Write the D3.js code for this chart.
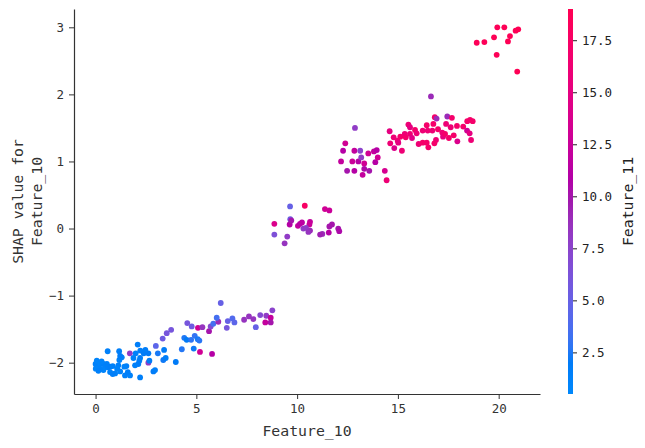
<!DOCTYPE html>
<html><head><meta charset="utf-8">
<script src="https://cdn.jsdelivr.net/npm/d3@7/dist/d3.min.js"></script>
<style>
body{margin:0;background:#fff;}
text{font-family:"DejaVu Sans Mono",monospace;}
</style>
</head><body>
<svg id="chart" width="645" height="448"></svg>
<script>
// ---- data ----
const feature10 = [
 0.00,0.07,0.14,0.22,0.39,0.47,0.39,0.63,0.22,0.01,0.14,0.72,0.06,0.56,0.72,0.60,1.17,1.30,1.18,1.22,
 1.53,1.43,1.13,1.07,0.97,0.85,1.46,1.71,2.21,1.22,1.60,1.70,2.09,1.99,2.22,2.39,2.62,2.99,3.09,3.40,
 2.17,2.12,2.21,1.88,2.62,2.87,2.95,3.36,3.48,3.98,4.28,4.40,4.52,4.74,4.92,5.07,5.15,4.87,3.33,3.53,
 3.75,1.96,2.67,4.55,4.77,5.08,5.30,5.18,5.78,5.63,5.71,5.84,6.09,6.01,6.21,6.51,6.56,6.79,6.89,7.37,
 7.61,7.83,7.95,8.17,8.47,8.42,8.69,8.69,8.77,2.47,0.30,0.85,
 9.65,10.38,11.38,11.60,9.66,8.87,9.63,9.71,10.04,10.14,10.24,10.64,10.61,10.31,10.44,10.64,10.56,11.60,11.73,12.04,
 12.09,11.57,11.25,11.14,8.87,9.51,9.38,
 12.87,12.39,12.28,12.84,13.13,13.53,13.81,13.95,12.18,12.74,13.04,13.18,13.33,13.88,14.00,12.48,12.84,13.33,13.58,13.25,
 14.35,14.44,14.59,14.62,14.82,14.79,14.99,15.02,15.20,15.12,15.34,15.39,15.52,15.60,15.60,15.70,15.85,15.93,16.03,16.23,
 16.23,16.43,16.48,16.43,16.51,16.76,16.71,16.83,16.92,16.89,16.81,16.99,17.20,17.24,17.34,17.39,17.45,17.53,17.62,17.68,
 17.77,17.93,17.95,18.24,18.43,18.56,18.44,18.58,18.71,18.63,16.64,
 18.91,19.29,19.77,19.93,20.28,20.56,20.46,20.84,20.97,19.90,20.92
];
const shapValues = [
 -2.02,-2.04,-2.00,-2.02,-2.02,-2.07,-2.11,-2.07,-2.09,-2.09,-2.12,-2.14,-1.97,-2.02,-2.06,-1.83,-1.83,-1.92,-1.96,-1.90,
 -2.05,-2.06,-2.04,-2.09,-2.16,-2.17,-2.19,-2.19,-2.22,-2.13,-2.14,-1.86,-1.73,-1.86,-1.82,-1.86,-1.86,-1.75,-1.86,-1.81,
 -1.97,-2.02,-1.93,-1.93,-2.00,-2.13,-2.11,-1.96,-1.93,-1.99,-1.80,-1.63,-1.66,-1.66,-1.60,-1.65,-1.67,-1.79,-1.64,-1.56,
 -1.51,-2.04,-1.97,-1.41,-1.46,-1.48,-1.47,-1.84,-1.87,-1.53,-1.46,-1.42,-1.39,-1.33,-1.11,-1.48,-1.38,-1.34,-1.40,-1.36,
 -1.31,-1.35,-1.47,-1.29,-1.30,-1.40,-1.33,-1.40,-1.22,-1.81,-1.98,-2.05,
 0.33,0.34,0.29,0.27,0.14,0.07,0.06,0.12,0.04,0.07,0.09,0.10,0.06,0.00,0.01,-0.03,-0.05,0.03,0.06,0.00,
 -0.04,-0.06,-0.08,-0.09,-0.09,-0.12,-0.22,
 1.50,1.27,1.16,1.16,1.16,1.12,1.15,1.17,1.00,1.00,1.00,1.06,0.97,0.99,1.06,0.86,0.86,0.89,0.86,0.80,
 0.86,0.72,1.45,1.27,1.20,1.36,1.31,1.28,1.16,1.37,1.41,1.36,1.55,1.51,1.41,1.35,1.47,1.42,1.26,1.46,
 1.28,1.54,1.46,1.28,1.21,1.56,1.46,1.66,1.64,1.32,1.27,1.48,1.43,1.37,1.41,1.56,1.67,1.35,1.51,1.65,
 1.39,1.53,1.30,1.52,1.46,1.42,1.60,1.62,1.60,1.32,1.97,
 2.77,2.78,2.85,3.00,3.00,2.87,2.79,2.95,2.97,2.59,2.34
];
const feature11 = [
 1.5,1.2,1.5,1.0,1.5,1.2,1.0,1.5,1.3,1.0,1.5,1.2,1.0,1.5,1.8,1.5,1.6,1.4,1.2,1.9,
 1.6,1.3,1.5,1.1,1.4,1.7,1.5,1.2,1.6,1.3,1.8,8.0,1.8,1.4,1.6,2.0,2.2,4.5,2.4,2.0,
 1.5,1.9,1.7,1.3,8.0,2.0,1.6,2.3,1.8,2.1,2.6,2.5,2.2,2.8,3.0,2.4,2.7,2.3,5.5,6.0,
 6.0,1.5,2.0,6.0,5.5,13.0,8.5,13.0,11.0,10.0,7.0,3.5,9.0,3.5,5.0,6.0,5.0,4.0,4.5,8.5,
 8.5,8.5,5.0,7.0,8.0,12.0,12.0,10.0,7.5,1.8,1.1,1.4,
 5.0,17.5,13.0,12.5,5.5,14.0,11.0,10.0,12.0,11.0,11.5,12.0,12.5,8.0,8.0,9.0,8.5,10.0,10.0,10.0,
 10.5,11.0,9.0,9.5,6.5,8.0,8.5,
 8.0,13.0,11.0,12.0,7.5,13.0,12.0,11.0,12.0,12.5,11.0,8.0,13.0,11.0,13.0,10.0,11.0,10.5,10.0,12.0,
 13.5,16.0,15.0,16.0,14.0,16.0,16.0,15.0,16.0,17.0,16.0,17.0,16.0,15.0,16.0,14.5,17.0,16.0,16.0,16.0,
 17.0,17.0,16.0,17.0,17.0,17.0,16.0,17.0,9.0,16.0,17.0,17.0,16.0,15.0,17.0,16.0,9.0,17.0,16.0,17.0,
 17.0,17.0,14.0,17.0,13.0,15.0,17.0,17.0,17.0,16.0,9.0,
 18.5,18.5,18.8,18.5,18.7,18.6,18.8,18.5,18.9,18.6,18.8
];
const xTicks = [0, 5, 10, 15, 20];
const yTicks = [-2, -1, 0, 1, 2, 3];
const cTicks = [2.5, 5, 7.5, 10, 12.5, 15, 17.5];
const xDomain = [-1.07, 22.05];
const yDomain = [-2.467, 3.273];
const cDomain = [0.5, 19.0];
const xLabel = "Feature_10";
const yLabelLines = ["SHAP value for", "Feature_10"];
const cLabel = "Feature_11";

// ---- layout ----
const L = 74, R = 540, T = 9, B = 394;
const svg = d3.select("#chart");
const x = d3.scaleLinear().domain(xDomain).range([L, R]);
const y = d3.scaleLinear().domain(yDomain).range([B, T]);

// SHAP red_blue colormap (LCh interpolation)
function redBlue(t) {
  t = Math.max(0, Math.min(1, t));
  const h = 266.93 + t * (380.32 - 266.93);
  const c = 70 + 20 * t;
  const l = t < 0.5 ? 54 - 28 * t : 40 + 28 * (t - 0.5);
  return d3.hcl(h % 360, c, l).formatHex();
}
const cNorm = d3.scaleLinear().domain(cDomain).range([0, 1]).clamp(true);
const color = v => redBlue(cNorm(v));

// points
const pts = feature10.map((v, i) => ({x: v, y: shapValues[i], c: feature11[i]}));
svg.append("g").selectAll("circle").data(pts).join("circle")
  .attr("cx", d => x(d.x)).attr("cy", d => y(d.y)).attr("r", 2.9)
  .attr("fill", d => color(d.c));

const fmtY = d => d < 0 ? "\u2212" + Math.abs(d) : String(d);
const xAxis = svg.append("g").attr("transform", `translate(0,${B})`)
  .call(d3.axisBottom(x).tickValues(xTicks).tickSize(5).tickSizeOuter(0).tickPadding(5));
const yAxis = svg.append("g").attr("transform", `translate(${L},0)`)
  .call(d3.axisLeft(y).tickValues(yTicks).tickFormat(fmtY).tickSize(5).tickSizeOuter(0).tickPadding(5));
[xAxis, yAxis].forEach(g => {
  g.select(".domain").attr("stroke", "#333").attr("stroke-width", 1.2);
  g.selectAll(".tick line").attr("stroke", "#333");
  g.selectAll(".tick text").attr("fill", "#333").style("font-size", "12.5px")
   .style("font-family", '"DejaVu Sans Mono", monospace');
});

svg.append("text").attr("x", (L + R) / 2 + 0).attr("y", 436)
  .attr("text-anchor", "middle").attr("fill", "#333").style("font-size", "14.8px").text(xLabel);

const ly = svg.append("text").attr("transform", `translate(23,${(T + B) / 2}) rotate(-90)`)
  .attr("text-anchor", "middle").attr("fill", "#333").style("font-size", "14.8px");
ly.append("tspan").attr("x", 0).attr("dy", 0).text(yLabelLines[0]);
ly.append("tspan").attr("x", 0).attr("dy", 18.5).text(yLabelLines[1]);

// colorbar
const cbX = 568, cbW = 5;
const cy = d3.scaleLinear().domain(cDomain).range([B, T]);
const grad = svg.append("defs").append("linearGradient").attr("id", "cbg")
  .attr("x1", 0).attr("y1", 1).attr("x2", 0).attr("y2", 0);
d3.range(0, 1.0001, 0.02).forEach(t => grad.append("stop").attr("offset", t).attr("stop-color", redBlue(t)));
svg.append("rect").attr("x", cbX).attr("y", T).attr("width", cbW).attr("height", B - T).attr("fill", "url(#cbg)");
const cAxis = svg.append("g").attr("transform", `translate(${cbX + cbW},0)`)
  .call(d3.axisRight(cy).tickValues(cTicks).tickFormat(d => d.toFixed(1)).tickSize(4).tickSizeOuter(0).tickPadding(5));
cAxis.select(".domain").remove();
cAxis.selectAll(".tick line").attr("stroke", "#222");
cAxis.selectAll(".tick text").attr("fill", "#222").style("font-size", "12.5px")
  .style("font-family", '"DejaVu Sans Mono", monospace');
svg.append("text").attr("transform", `translate(633,${(T + B) / 2}) rotate(-90)`)
  .attr("text-anchor", "middle").attr("fill", "#222").style("font-size", "14.8px").text(cLabel);
</script>
</body></html>
